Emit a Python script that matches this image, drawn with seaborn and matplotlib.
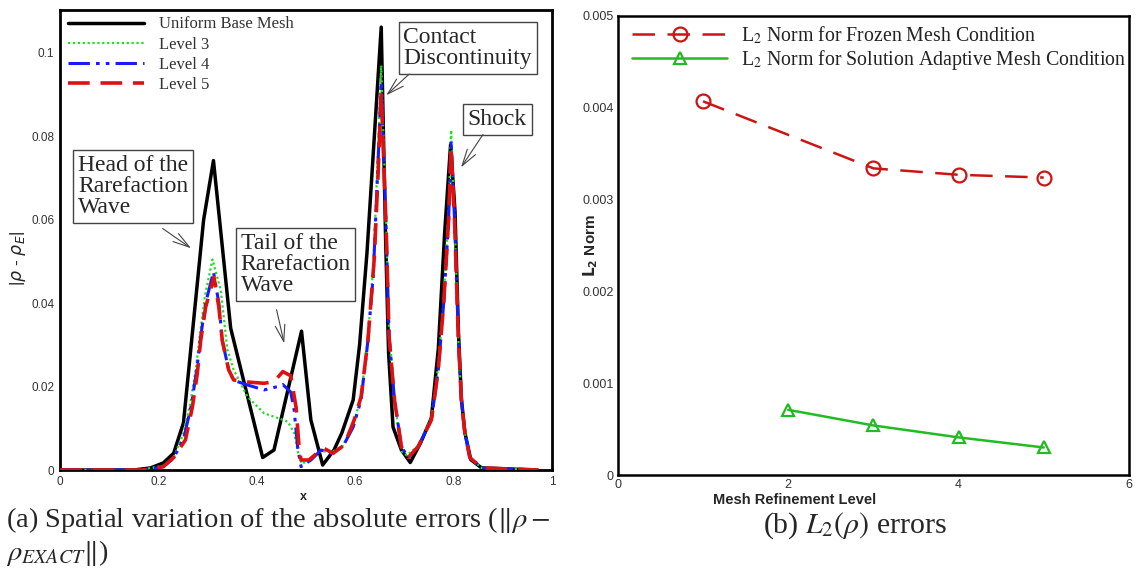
import matplotlib
matplotlib.use("Agg")
import matplotlib.pyplot as plt
from matplotlib.ticker import AutoMinorLocator
import seaborn as sns

# ---------------- data: left panel (absolute error vs x) ----------------
base_x = [0.0, 0.15, 0.184, 0.21, 0.231, 0.251, 0.292, 0.312, 0.347, 0.412, 0.435, 0.491, 0.51,
          0.534, 0.557, 0.573, 0.596, 0.609, 0.624, 0.639, 0.653, 0.662, 0.668, 0.677, 0.694,
          0.712, 0.733, 0.755, 0.769, 0.782, 0.794, 0.803, 0.81, 0.816, 0.823, 0.835, 0.857, 0.97]
base_y = [0, 0, 0.0005, 0.0017, 0.004, 0.0113, 0.060, 0.0742, 0.034, 0.003, 0.0048, 0.0333, 0.012,
          0.0012, 0.0048, 0.0089, 0.0168, 0.030, 0.052, 0.080, 0.1062, 0.055, 0.028, 0.0103, 0.0048,
          0.0018, 0.0065, 0.0125, 0.029, 0.057, 0.078, 0.062, 0.033, 0.017, 0.009, 0.0025, 0.0005, 0]

l3_x = [0, 0.16, 0.21, 0.231, 0.25, 0.265, 0.277, 0.285, 0.295, 0.31, 0.327, 0.34, 0.353, 0.381,
        0.415, 0.442, 0.463, 0.476, 0.486, 0.492, 0.51, 0.531, 0.551, 0.575, 0.596, 0.612, 0.626,
        0.637, 0.647, 0.653, 0.663, 0.669, 0.68, 0.694, 0.705, 0.728, 0.755, 0.769, 0.78, 0.79,
        0.795, 0.802, 0.81, 0.816, 0.823, 0.833, 0.857, 0.973]
l3_y = [0, 0, 0.001, 0.003, 0.0085, 0.016, 0.025, 0.033, 0.042, 0.0505, 0.043, 0.029, 0.024, 0.0176,
        0.0136, 0.0125, 0.0116, 0.0089, 0.003, 0.0015, 0.0026, 0.0046, 0.0042, 0.0058, 0.0108, 0.0175, 0.032,
        0.049, 0.078, 0.097, 0.06, 0.033, 0.017, 0.0045, 0.0035, 0.0058, 0.0125, 0.025, 0.041, 0.062,
        0.0815, 0.061, 0.031, 0.0168, 0.009, 0.003, 0.0005, 0]

l4_x = [0, 0.17, 0.21, 0.231, 0.252, 0.267, 0.278, 0.286, 0.296, 0.312, 0.323, 0.33, 0.343, 0.353,
        0.381, 0.415, 0.442, 0.453, 0.469, 0.476, 0.483, 0.49, 0.51, 0.531, 0.551, 0.575, 0.596,
        0.612, 0.626, 0.637, 0.647, 0.653, 0.663, 0.669, 0.68, 0.694, 0.708, 0.728, 0.755, 0.769,
        0.78, 0.79, 0.795, 0.802, 0.81, 0.816, 0.823, 0.833, 0.857, 0.973]
l4_y = [0, 0, 0.0008, 0.0028, 0.0078, 0.0155, 0.024, 0.032, 0.040, 0.0475, 0.040, 0.031, 0.024, 0.0215,
        0.0204, 0.0192, 0.020, 0.0205, 0.0187, 0.0144, 0.0056, 0.0008, 0.0024, 0.0048, 0.004, 0.0056, 0.0103,
        0.0168, 0.031, 0.047, 0.075, 0.093, 0.058, 0.032, 0.0168, 0.0056, 0.003, 0.0056, 0.012, 0.024,
        0.04, 0.06, 0.079, 0.06, 0.031, 0.0168, 0.009, 0.003, 0.0005, 0]

l5_x = [0, 0.17, 0.21, 0.231, 0.255, 0.269, 0.279, 0.286, 0.296, 0.313, 0.323, 0.33, 0.343, 0.353,
        0.381, 0.415, 0.435, 0.453, 0.469, 0.48, 0.486, 0.49, 0.506, 0.535, 0.555, 0.578, 0.598,
        0.612, 0.626, 0.639, 0.647, 0.653, 0.663, 0.669, 0.68, 0.694, 0.708, 0.728, 0.755, 0.769,
        0.78, 0.79, 0.795, 0.802, 0.81, 0.816, 0.823, 0.833, 0.857, 0.973]
l5_y = [0, 0, 0.0008, 0.003, 0.0072, 0.015, 0.023, 0.031, 0.039, 0.0462, 0.039, 0.031, 0.024, 0.0216,
        0.0211, 0.0208, 0.0212, 0.0236, 0.0226, 0.015, 0.0055, 0.0024, 0.0024, 0.0053, 0.004, 0.006, 0.012,
        0.0175, 0.031, 0.051, 0.072, 0.0905, 0.058, 0.032, 0.0168, 0.0056, 0.003, 0.0056, 0.012, 0.024,
        0.04, 0.06, 0.0775, 0.06, 0.031, 0.0168, 0.009, 0.003, 0.0005, 0]

left_labels = ["Uniform Base Mesh", "Level 3", "Level 4", "Level 5"]
left_xticks = [0, 0.2, 0.4, 0.6, 0.8, 1.0]
left_xticklabels = ["0", "0.2", "0.4", "0.6", "0.8", "1"]
left_yticks = [0, 0.02, 0.04, 0.06, 0.08, 0.1]
left_yticklabels = ["0", "0.02", "0.04", "0.06", "0.08", "0.1"]

notes = ["Head of the\nRarefaction\nWave", "Tail of the\nRarefaction\nWave",
         "Contact\nDiscontinuity", "Shock"]

# ---------------- data: right panel (L2 norms) ----------------
frozen_level = [1, 3, 4, 5]
frozen_l2 = [0.00407, 0.00334, 0.00327, 0.00324]
adaptive_level = [2, 3, 4, 5]
adaptive_l2 = [0.00071, 0.00054, 0.00041, 0.00030]
right_labels = [r"L$_2$ Norm for Frozen Mesh Condition",
                r"L$_2$ Norm for Solution Adaptive Mesh Condition"]
right_xticks = [0, 2, 4, 6]
right_yticks = [0, 0.001, 0.002, 0.003, 0.004, 0.005]
right_yticklabels = ["0", "0.001", "0.002", "0.003", "0.004", "0.005"]

# ---------------- style ----------------
sns.set_style("white")
plt.rcParams["font.family"] = ["Liberation Serif", "DejaVu Serif"]
plt.rcParams["mathtext.fontset"] = "stix"

fig = plt.figure(figsize=(11.38, 5.76), dpi=100)
axL = fig.add_axes([0.0527, 0.184, 0.4323, 0.7986])
axR = fig.add_axes([0.543, 0.1753, 0.449, 0.797])

SANS = "Liberation Sans"

# ---------------- left panel ----------------
sns.lineplot(x=base_x, y=base_y, ax=axL, color="black", linewidth=2.5, sort=False,
             estimator=None, label=left_labels[0], zorder=2)
sns.lineplot(x=l3_x, y=l3_y, ax=axL, color="#22dd22", linewidth=1.6, linestyle=(0, (1, 1.2)),
             sort=False, estimator=None, label=left_labels[1], zorder=3)
sns.lineplot(x=l4_x, y=l4_y, ax=axL, color="#1a1aff", linewidth=2.2,
             linestyle=(0, (7, 2, 1.2, 2, 1.2, 2)), sort=False, estimator=None,
             label=left_labels[2], zorder=4)
sns.lineplot(x=l5_x, y=l5_y, ax=axL, color="#dd1111", linewidth=2.6, linestyle=(0, (6, 3)),
             sort=False, estimator=None, label=left_labels[3], zorder=5)

axL.set_xlim(0, 1.0)
axL.set_ylim(0, 0.1103)
axL.set_xticks(left_xticks)
axL.set_xticklabels(left_xticklabels, family=SANS, fontsize=8.5, color="#333333")
axL.set_yticks(left_yticks)
axL.set_yticklabels(left_yticklabels, family=SANS, fontsize=8.5, color="#333333")
axL.xaxis.set_minor_locator(AutoMinorLocator(4))
axL.yaxis.set_minor_locator(AutoMinorLocator(4))
axL.tick_params(which="both", direction="in", color="black")
axL.tick_params(which="major", length=5, width=1, pad=4)
axL.tick_params(which="minor", length=3, width=0.8)
for s in axL.spines.values():
    s.set_linewidth(2.0)
    s.set_color("black")
axL.set_xlabel("x", family=SANS, fontweight="bold", fontsize=9)
axL.xaxis.set_label_coords(0.494, -0.045)
axL.set_ylabel(r"|$\rho$ - $\rho_E$|", family=SANS, fontsize=12.5, math_fontfamily="dejavusans",
               color="#222222")
axL.yaxis.set_label_coords(-0.066, 0.46)

legL = axL.legend(loc="upper left", bbox_to_anchor=(-0.005, 1.008), frameon=False, fontsize=12,
                  handlelength=4.6, handletextpad=0.9, labelspacing=0.25, borderaxespad=0.2)
for t in legL.get_texts():
    t.set_color("#333333")

box = dict(boxstyle="square,pad=0.2", facecolor="white", edgecolor="#444444", linewidth=1.0)
note_pos = [(0.0367, 0.0755), (0.367, 0.0568), (0.698, 0.1062), (0.829, 0.0866)]
arrow_from = [(0.204, 0.0583), (0.439, 0.0391), (0.714, 0.0954), (0.863, 0.0810)]
arrow_to = [(0.271, 0.0528), (0.457, 0.0297), (0.659, 0.0894), (0.812, 0.0720)]
for txt, pos, a0, a1 in zip(notes, note_pos, arrow_from, arrow_to):
    axL.text(pos[0], pos[1], txt, ha="left", va="top", fontsize=17, linespacing=1.0,
             bbox=box, zorder=6)
    axL.annotate("", xy=a1, xytext=a0,
                 arrowprops=dict(arrowstyle="->,head_length=1.2,head_width=0.35",
                                 color="#444444", linewidth=0.8), zorder=6)

# ---------------- right panel ----------------
sns.lineplot(x=frozen_level, y=frozen_l2, ax=axR, color="#cc1414", linewidth=1.8,
             linestyle=(0, (9, 5)), marker="o", markersize=10, markerfacecolor="none",
             markeredgecolor="#cc1414", markeredgewidth=1.6, label=right_labels[0], zorder=3)
sns.lineplot(x=adaptive_level, y=adaptive_l2, ax=axR, color="#22bb22", linewidth=1.8,
             marker="^", markersize=9, markerfacecolor="none", markeredgecolor="#22bb22",
             markeredgewidth=1.6, label=right_labels[1], zorder=3)

axR.set_xlim(0, 6)
axR.set_ylim(0, 0.005)
axR.set_xticks(right_xticks)
axR.set_xticklabels([str(v) for v in right_xticks], family=SANS, fontsize=9, color="#333333")
axR.set_yticks(right_yticks)
axR.set_yticklabels(right_yticklabels, family=SANS, fontsize=9, color="#333333")
axR.tick_params(which="major", direction="in", length=4, width=0.8, pad=3)
for s in axR.spines.values():
    s.set_linewidth(1.8)
    s.set_color("black")
axR.set_xlabel("Mesh Refinement Level", family=SANS, fontweight="bold", fontsize=10.5)
axR.xaxis.set_label_coords(0.346, -0.039)
axR.set_ylabel(r"$\mathbf{L_2}$ Norm", family=SANS, fontweight="bold", fontsize=11,
               math_fontfamily="dejavusans")
axR.yaxis.set_label_coords(-0.035, 0.50)

legR = axR.legend(loc="upper left", bbox_to_anchor=(0.0, 1.012), frameon=False, fontsize=14.3,
                  handlelength=4.8, handletextpad=0.7, labelspacing=0.1, borderaxespad=0.3,
                  numpoints=1)
for t in legR.get_texts():
    t.set_color("#222222")

# ---------------- captions ----------------
fig.text(0.005, 0.097, r"(a) Spatial variation of the absolute errors ($\|\rho -$",
         ha="left", va="center", fontsize=20.5)
fig.text(0.005, 0.040, r"$\rho_{EXACT}\|$)", ha="left", va="center", fontsize=20.5)
fig.text(0.751, 0.088, r"(b) $L_2(\rho)$ errors", ha="center", va="center", fontsize=21.5)

fig.savefig("out.png", dpi=100)
